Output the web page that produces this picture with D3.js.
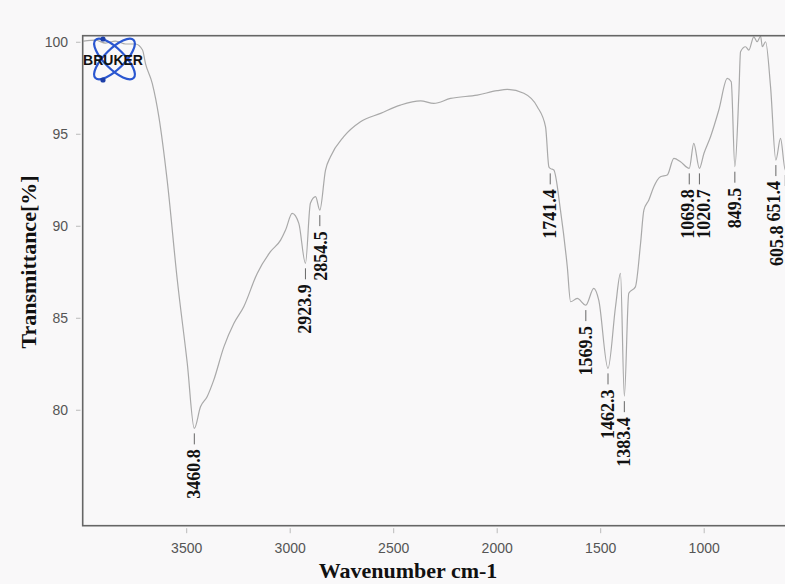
<!DOCTYPE html>
<html>
<head>
<meta charset="utf-8">
<script src="https://cdn.jsdelivr.net/npm/d3@7"></script>
<style>
  html, body { margin: 0; padding: 0; background: #f9f8f9; overflow: hidden; }
  svg { display: block; }
</style>
</head>
<body>
<svg id="chart" width="785" height="584"></svg>
<script>
// ---- Data ----
const wavenumbers = [3996, 3938, 3890, 3842, 3793, 3745, 3711, 3697, 3664, 3632, 3592, 3543, 3495, 3460.8,
  3431, 3399, 3367, 3318, 3270, 3222, 3157, 3093, 3044, 3020, 2988, 2956, 2923.9, 2900, 2875, 2854.5,
  2827, 2803, 2739, 2658, 2561, 2465, 2368, 2304, 2223, 2094, 1998, 1949, 1869, 1804, 1764, 1748, 1741.4,
  1724, 1692, 1659, 1643, 1611, 1569.5, 1531, 1507, 1462.3, 1426, 1402, 1383.4, 1362, 1330, 1305, 1289,
  1265, 1241, 1209, 1176, 1144, 1112, 1069.8, 1048, 1020.7, 999, 967, 927, 886, 867, 849.5, 830, 822,
  798, 782, 758, 742, 725, 717, 701, 677, 651.4, 629, 605.8, 595];
const transmittance = [100.04, 100.09, 99.93, 100.04, 99.88, 99.88, 99.55, 98.83, 97.74, 95.92, 92.48, 87.05, 82.54, 78.99,
  80.16, 80.71, 81.61, 83.42, 84.69, 85.6, 87.41, 88.59, 89.22, 89.77, 90.67, 90.13, 87.96, 91.22, 91.58, 90.85,
  93.03, 93.75, 94.84, 95.65, 96.11, 96.56, 96.79, 96.65, 96.92, 97.1, 97.34, 97.41, 97.2, 96.47, 95.38, 93.21, 93.12,
  93.03, 90.85, 87.77, 85.87, 86.05, 85.69, 86.6, 85.96, 82.25, 85.6, 87.41, 80.74, 86.33, 86.68, 89.04, 90.85,
  91.4, 92.12, 92.66, 92.76, 93.66, 93.48, 93.12, 94.48, 93.12, 93.93, 94.84, 96.29, 98.01, 97.83, 93.21, 97.2, 99.46,
  99.73, 99.55, 100.27, 100.0, 100.3, 99.73, 100.0, 97.55, 93.57, 94.75, 93.03, 93.6];

const peakWavenumbers = [3460.8, 2923.9, 2854.5, 1741.4, 1569.5, 1462.3, 1383.4, 1069.8, 1020.7, 849.5, 651.4, 605.8];
const peakTransmittance = [78.99, 87.96, 90.85, 93.12, 85.69, 82.25, 80.74, 93.12, 93.12, 93.21, 93.57, 93.03];
const peakLabels = ["3460.8", "2923.9", "2854.5", "1741.4", "1569.5", "1462.3", "1383.4", "1069.8", "1020.7", "849.5", "651.4", "605.8"];

const xTicks = [3500, 3000, 2500, 2000, 1500, 1000];
const yTicks = [80, 85, 90, 95, 100];
const xTitle = "Wavenumber cm-1";
const yTitle = "Transmittance[%]";

// ---- Layout ----
const W = 785;
const plotLeft = 82.7, plotTop = 35.7, plotBottom = 525.7;
const x = d3.scaleLinear().domain([4000, 400]).range([plotLeft, plotLeft + 3600 * 0.207]);
const y = d3.scaleLinear().domain([73.7, 100.33]).range([plotBottom, plotTop]);

const svg = d3.select("#chart");
svg.append("rect").attr("width", W).attr("height", 584).attr("fill", "#f9f8f9");

// Spectrum
const pts = wavenumbers.map((w, i) => [w, transmittance[i]]);
svg.append("path")
  .datum(pts)
  .attr("fill", "none")
  .attr("stroke", "#a9a9a9")
  .attr("stroke-width", 1.2)
  .attr("stroke-linejoin", "round")
  .attr("d", d3.line().x(d => x(d[0])).y(d => y(d[1])).curve(d3.curveMonotoneX));

// Frame
svg.append("rect")
  .attr("x", plotLeft).attr("y", plotTop)
  .attr("width", x(400) - plotLeft).attr("height", plotBottom - plotTop)
  .attr("fill", "none").attr("stroke", "#666").attr("stroke-width", 1.6);

// Axes
const xAxis = svg.append("g")
  .attr("transform", `translate(0,${plotBottom + 2.5})`)
  .call(d3.axisBottom(x).tickValues(xTicks).tickSize(5).tickPadding(10).tickFormat(d3.format("d")));
xAxis.select(".domain").remove();
xAxis.selectAll("line").attr("stroke", "#bbb");
xAxis.selectAll("text").attr("fill", "#555").style("font", "14px 'Liberation Sans', Arial, sans-serif");

const yAxis = svg.append("g")
  .attr("transform", `translate(${plotLeft - 2.2},0)`)
  .call(d3.axisLeft(y).tickValues(yTicks).tickSize(4.5).tickPadding(8).tickFormat(d3.format("d")));
yAxis.select(".domain").remove();
yAxis.selectAll("line").attr("stroke", "#bbb");
yAxis.selectAll("text").attr("fill", "#555").style("font", "14px 'Liberation Sans', Arial, sans-serif");

// Axis titles
svg.append("text")
  .attr("transform", "translate(36,262) rotate(-90)")
  .attr("text-anchor", "middle")
  .attr("fill", "#111")
  .style("font", "bold 22px 'Liberation Serif', 'Times New Roman', serif")
  .text(yTitle);
svg.append("text")
  .attr("x", 408).attr("y", 578)
  .attr("text-anchor", "middle")
  .attr("fill", "#111")
  .style("font", "bold 22px 'Liberation Serif', 'Times New Roman', serif")
  .text(xTitle);

// Peak annotations with simple collision avoidance
const labelFont = "bold 18px 'Liberation Serif', 'Times New Roman', serif";
const minGap = 16;
const placed = [];
peakWavenumbers.forEach((w, i) => {
  const px = x(w), py = y(peakTransmittance[i]);
  placed.push({ i, px, py, tx: px, ty: py + 21 });
});
placed.sort((a, b) => a.px - b.px);

const peaks = svg.append("g");
const measure = svg.append("text").style("font", labelFont).attr("visibility", "hidden");
placed.forEach(p => { measure.text(peakLabels[p.i]); p.len = measure.node().getComputedTextLength(); });
measure.remove();

for (let k = 1; k < placed.length; k++) {
  const a = placed[k - 1], b = placed[k];
  const gap = b.tx - a.tx;
  if (gap < minGap) {
    const need = minGap - gap;
    if (b.tx + need / 2 + 7 > W) {
      // no room to the right: stack below the previous label
      b.tx = Math.min(b.px, W - 8.5);
      b.ty = Math.max(b.ty, a.ty + a.len + 4);
      a.tx -= 2;
    } else {
      a.tx -= need * 0.3;
      b.tx += need * 0.7;
    }
  }
}

placed.forEach(p => {
  peaks.append("line")
    .attr("x1", p.px).attr("x2", p.px)
    .attr("y1", p.py + 5).attr("y2", p.py + 16)
    .attr("stroke", "#666").attr("stroke-width", 1);
  peaks.append("text")
    .attr("transform", `translate(${p.tx},${p.ty}) rotate(-90)`)
    .attr("text-anchor", "end")
    .attr("dominant-baseline", "central")
    .attr("fill", "#111")
    .style("font", labelFont)
    .text(peakLabels[p.i]);
});

// Bruker logo
const logo = svg.append("g").attr("transform", "translate(114.5,59)");
[45, -45].forEach(a => {
  logo.append("ellipse")
    .attr("rx", 27).attr("ry", 10)
    .attr("transform", `rotate(${a})`)
    .attr("fill", "none").attr("stroke", "#2a56d0").attr("stroke-width", 2.2);
});
logo.append("circle").attr("cx", -11.5).attr("cy", -20).attr("r", 2.6).attr("fill", "#1d3fa8");
logo.append("circle").attr("cx", -11.5).attr("cy", 21).attr("r", 2.6).attr("fill", "#1d3fa8");
logo.append("text")
  .attr("x", -1.5).attr("y", 1)
  .attr("text-anchor", "middle")
  .attr("dominant-baseline", "central")
  .attr("fill", "#111")
  .style("font", "bold 14px 'Liberation Sans', Arial, sans-serif")
  .text("BRUKER");
</script>
</body>
</html>
